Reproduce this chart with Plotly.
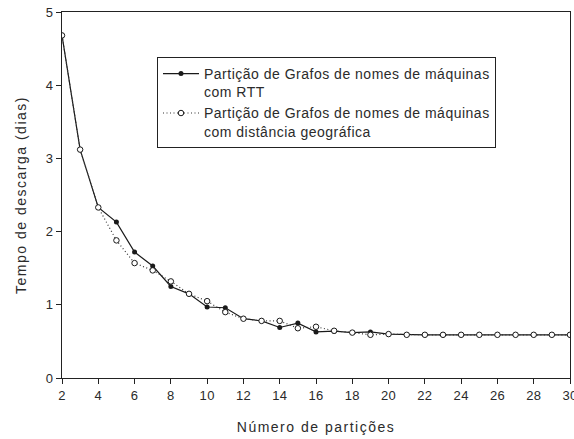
import plotly.graph_objects as go

# Number of partitions
particoes = list(range(2, 31))

# Download time (days) for the two partitioning strategies
tempo_rtt = [4.68, 3.12, 2.33, 2.13, 1.72, 1.53, 1.25, 1.15, 0.97, 0.96,
             0.81, 0.78, 0.69, 0.75, 0.63, 0.64, 0.62, 0.63, 0.60, 0.59,
             0.59, 0.59, 0.59, 0.59, 0.59, 0.59, 0.59, 0.59, 0.59]
tempo_geo = [4.68, 3.12, 2.33, 1.88, 1.57, 1.47, 1.32, 1.15, 1.05, 0.90,
             0.81, 0.78, 0.78, 0.68, 0.70, 0.645, 0.62, 0.59, 0.60, 0.59,
             0.59, 0.59, 0.59, 0.59, 0.59, 0.59, 0.59, 0.59, 0.59]

nome_rtt = "Partição de Grafos de nomes de máquinas<br>com RTT"
nome_geo = "Partição de Grafos de nomes de máquinas<br>com distância geográfica"

x_ticks = list(range(2, 31, 2))
y_ticks = [0, 1, 2, 3, 4, 5]

FONT = "Liberation Sans, Arial, sans-serif"
INK = "#2a2a2a"

fig = go.Figure()
fig.add_trace(go.Scatter(
    x=particoes, y=tempo_rtt, name=nome_rtt, mode="lines+markers",
    line=dict(color="#1a1a1a", width=1.2),
    marker=dict(symbol="circle", size=5, color="#1a1a1a"),
    legendrank=1,
))
fig.add_trace(go.Scatter(
    x=particoes, y=tempo_geo, name=nome_geo, mode="lines+markers",
    line=dict(color="#333333", width=1.2, dash="1px,2.5px"),
    marker=dict(symbol="circle", size=5.5, color="white",
                line=dict(color="#1a1a1a", width=1)),
    legendrank=2,
))

axis_common = dict(
    showgrid=False, zeroline=False, showline=True, linecolor="#222222",
    linewidth=1, mirror=True, ticks="outside", ticklen=5, tickwidth=1,
    tickcolor="#222222", automargin=False, ticklabeloverflow="allow",
    tickfont=dict(family=FONT, size=13, color=INK),
)

fig.update_layout(
    template="none",
    width=574, height=439,
    margin=dict(l=62, r=4, t=12, b=61),
    paper_bgcolor="white", plot_bgcolor="white",
    font=dict(family=FONT, color=INK),
    xaxis=dict(range=[2, 30], tickvals=x_ticks,
               title=dict(text="Número de partições",
                          font=dict(family=FONT, size=14, color=INK),
                          standoff=20),
               **axis_common),
    yaxis=dict(range=[0, 5], tickvals=y_ticks,
               title=dict(text="Tempo de descarga (dias)",
                          font=dict(family=FONT, size=14, color=INK),
                          standoff=16),
               **axis_common),
    legend=dict(
        x=0.187, y=0.877, xanchor="left", yanchor="top",
        bordercolor="#222222", borderwidth=1, bgcolor="white",
        font=dict(family=FONT, size=14, color=INK),
        valign="top", itemwidth=36, tracegroupgap=2,
    ),
    showlegend=True,
)

# Widen the letter spacing of the titles and legend labels, then redraw
# with a nudged text colour so the text sizes are measured afresh.
spacing_js = """
var gd = document.getElementById('{plot_id}');
var st = document.createElement('style');
st.textContent = '.legendtext{letter-spacing:0.5px}' +
                 '.xtitle,.ytitle{letter-spacing:1.5px}' +
                 '.xtick text,.ytick text{letter-spacing:0.3px}';
document.head.appendChild(st);
Plotly.relayout(gd, {
  'legend.font.color': '#2b2b2b',
  'xaxis.title.font.color': '#2b2b2b',
  'yaxis.title.font.color': '#2b2b2b'
});
"""

fig.write_html("out.html", post_script=spacing_js)
